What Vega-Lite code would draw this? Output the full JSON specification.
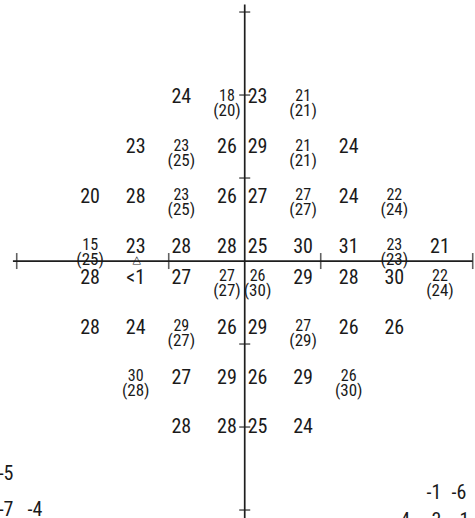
{
  "$schema": "https://vega.github.io/schema/vega-lite/v6.json",
  "width": 475,
  "height": 518,
  "autosize": {"type": "none"},
  "padding": 0,
  "background": "white",
  "config": {"view": {"stroke": null}},
  "datasets": {
    "grid": [
      {"x": -9, "y": 21, "v": "24"},
      {"x": -3, "y": 21, "v": "18", "r": 20},
      {"x": 3, "y": 21, "v": "23"},
      {"x": 9, "y": 21, "v": "21", "r": 21},
      {"x": -15, "y": 15, "v": "23"},
      {"x": -9, "y": 15, "v": "23", "r": 25},
      {"x": -3, "y": 15, "v": "26"},
      {"x": 3, "y": 15, "v": "29"},
      {"x": 9, "y": 15, "v": "21", "r": 21},
      {"x": 15, "y": 15, "v": "24"},
      {"x": -21, "y": 9, "v": "20"},
      {"x": -15, "y": 9, "v": "28"},
      {"x": -9, "y": 9, "v": "23", "r": 25},
      {"x": -3, "y": 9, "v": "26"},
      {"x": 3, "y": 9, "v": "27"},
      {"x": 9, "y": 9, "v": "27", "r": 27},
      {"x": 15, "y": 9, "v": "24"},
      {"x": 21, "y": 9, "v": "22", "r": 24},
      {"x": -21, "y": 3, "v": "15", "r": 25},
      {"x": -15, "y": 3, "v": "23"},
      {"x": -9, "y": 3, "v": "28"},
      {"x": -3, "y": 3, "v": "28"},
      {"x": 3, "y": 3, "v": "25"},
      {"x": 9, "y": 3, "v": "30"},
      {"x": 15, "y": 3, "v": "31"},
      {"x": 21, "y": 3, "v": "23", "r": 23},
      {"x": 27, "y": 3, "v": "21"},
      {"x": -21, "y": -3, "v": "28"},
      {"x": -15, "y": -3, "v": "<1"},
      {"x": -9, "y": -3, "v": "27"},
      {"x": -3, "y": -3, "v": "27", "r": 27},
      {"x": 3, "y": -3, "v": "26", "r": 30},
      {"x": 9, "y": -3, "v": "29"},
      {"x": 15, "y": -3, "v": "28"},
      {"x": 21, "y": -3, "v": "30"},
      {"x": 27, "y": -3, "v": "22", "r": 24},
      {"x": -21, "y": -9, "v": "28"},
      {"x": -15, "y": -9, "v": "24"},
      {"x": -9, "y": -9, "v": "29", "r": 27},
      {"x": -3, "y": -9, "v": "26"},
      {"x": 3, "y": -9, "v": "29"},
      {"x": 9, "y": -9, "v": "27", "r": 29},
      {"x": 15, "y": -9, "v": "26"},
      {"x": 21, "y": -9, "v": "26"},
      {"x": -15, "y": -15, "v": "30", "r": 28},
      {"x": -9, "y": -15, "v": "27"},
      {"x": -3, "y": -15, "v": "29"},
      {"x": 3, "y": -15, "v": "26"},
      {"x": 9, "y": -15, "v": "29"},
      {"x": 15, "y": -15, "v": "26", "r": 30},
      {"x": -9, "y": -21, "v": "28"},
      {"x": -3, "y": -21, "v": "28"},
      {"x": 3, "y": -21, "v": "25"},
      {"x": 9, "y": -21, "v": "24"}
    ],
    "dev": [
      {"x": -31.4, "y": -25.7, "v": "-5"},
      {"x": -31.4, "y": -30.0, "v": "-7"},
      {"x": -27.6, "y": -30.0, "v": "-4"},
      {"x": 24.9, "y": -28.0, "v": "-1"},
      {"x": 28.2, "y": -28.0, "v": "-6"},
      {"x": 20.8, "y": -31.3, "v": "-4"},
      {"x": 24.9, "y": -31.3, "v": "-3"},
      {"x": 28.6, "y": -31.3, "v": "-1"}
    ],
    "ticks": [
      {"t": -30}, {"t": -20}, {"t": -10}, {"t": 10}, {"t": 20}, {"t": 30}
    ]
  },
  "layer": [
    {
      "data": {"values": [{}]},
      "mark": {"type": "rule", "color": "#1e1e1e", "strokeWidth": 1.7},
      "encoding": {
        "x": {"datum": -30.5, "type": "quantitative", "scale": {"domain": [-32.2, 30.3], "nice": false, "zero": false}, "axis": null},
        "x2": {"datum": 30},
        "y": {"datum": 0, "type": "quantitative", "scale": {"domain": [-30.96, 31.45], "nice": false, "zero": false}, "axis": null}
      }
    },
    {
      "data": {"values": [{}]},
      "mark": {"type": "rule", "color": "#1e1e1e", "strokeWidth": 1.7},
      "encoding": {
        "x": {"datum": 0, "type": "quantitative"},
        "y": {"datum": -31.5, "type": "quantitative"},
        "y2": {"datum": 30.9}
      }
    },
    {
      "data": {"name": "ticks"},
      "transform": [{"filter": "abs(datum.t) != 20"}],
      "mark": {"type": "tick", "orient": "vertical", "size": 16, "thickness": 1.6, "color": "#1e1e1e"},
      "encoding": {
        "x": {"field": "t", "type": "quantitative"},
        "y": {"datum": 0, "type": "quantitative"}
      }
    },
    {
      "data": {"name": "ticks"},
      "mark": {"type": "tick", "orient": "horizontal", "size": 11, "thickness": 1.6, "color": "#1e1e1e"},
      "encoding": {
        "y": {"field": "t", "type": "quantitative"},
        "x": {"datum": 0, "type": "quantitative"}
      }
    },
    {
      "data": {"name": "grid"},
      "mark": {
        "type": "text",
        "font": "Roboto Condensed, DejaVu Sans Condensed, sans-serif",
        "color": "#1a1a1a",
        "align": "center",
        "baseline": "middle",
        "fontSize": {"expr": "isValid(datum.r) ? 16 : 20"},
        "dx": {"expr": "datum.x < 0 ? 5 : -10"},
        "dy": {"expr": "(datum.y > 0 ? 10.5 : -8) - (isValid(datum.r) ? 1.5 : 0)"}
      },
      "encoding": {
        "x": {"field": "x", "type": "quantitative"},
        "y": {"field": "y", "type": "quantitative"},
        "text": {"field": "v", "type": "nominal"}
      }
    },
    {
      "data": {"name": "grid"},
      "transform": [{"filter": {"field": "r", "valid": true}}],
      "mark": {
        "type": "text",
        "font": "Roboto Condensed, DejaVu Sans Condensed, sans-serif",
        "color": "#1a1a1a",
        "align": "center",
        "baseline": "middle",
        "fontSize": 17,
        "text": {"expr": "'(' + datum.r + ')'"},
        "dx": {"expr": "datum.x < 0 ? 5 : -10"},
        "dy": {"expr": "(datum.y > 0 ? 10.5 : -8) + 13.5"}
      },
      "encoding": {
        "x": {"field": "x", "type": "quantitative"},
        "y": {"field": "y", "type": "quantitative"}
      }
    },
    {
      "data": {"values": [{"x": -15, "y": 0, "s": "△"}]},
      "mark": {"type": "text", "fontSize": 11, "color": "#1a1a1a", "dx": 6, "dy": -1, "baseline": "middle", "align": "center", "font": "DejaVu Sans"},
      "encoding": {
        "x": {"field": "x", "type": "quantitative"},
        "y": {"field": "y", "type": "quantitative"},
        "text": {"field": "s", "type": "nominal"}
      }
    },
    {
      "data": {"name": "dev"},
      "mark": {
        "type": "text",
        "font": "Roboto Condensed, DejaVu Sans Condensed, sans-serif",
        "color": "#1a1a1a",
        "align": "center",
        "baseline": "middle",
        "fontSize": 20
      },
      "encoding": {
        "x": {"field": "x", "type": "quantitative"},
        "y": {"field": "y", "type": "quantitative"},
        "text": {"field": "v", "type": "nominal"}
      }
    }
  ]
}
